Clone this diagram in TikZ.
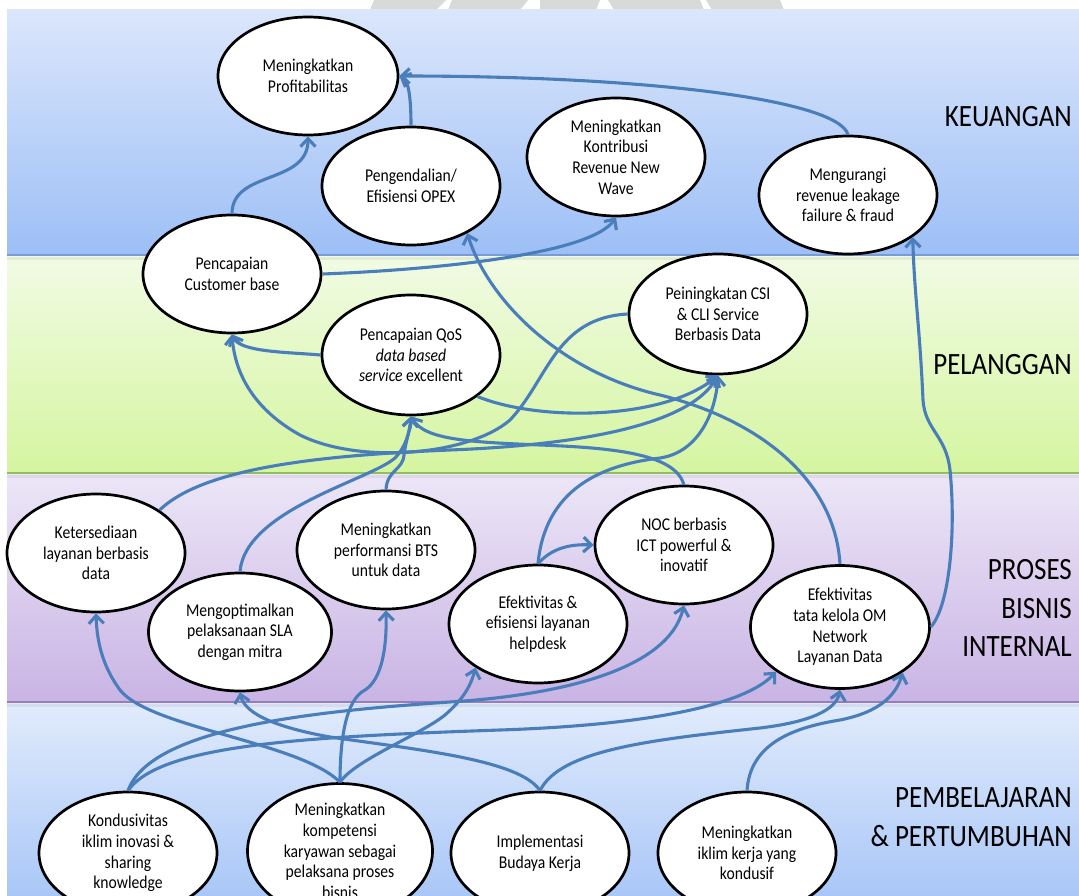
\documentclass[tikz,border=0pt]{standalone}
\usepackage{fontspec}
\setmainfont{Carlito}[FakeStretch=0.87]
\usetikzlibrary{shapes.geometric,arrows.meta}

\definecolor{linkblue}{RGB}{74,126,187}
\definecolor{finTop}{RGB}{219,230,251}
\definecolor{finBot}{RGB}{157,191,246}
\definecolor{finLine}{RGB}{118,155,215}
\definecolor{cusTop}{RGB}{241,251,228}
\definecolor{cusBot}{RGB}{213,245,160}
\definecolor{cusLine}{RGB}{145,190,95}
\definecolor{intTop}{RGB}{236,230,247}
\definecolor{intBot}{RGB}{201,180,228}
\definecolor{intLine}{RGB}{150,125,190}
\definecolor{lrnTop}{RGB}{225,235,252}
\definecolor{lrnBot}{RGB}{169,199,247}
\definecolor{wmgray}{RGB}{217,217,217}

\begin{document}
\begin{tikzpicture}[x=1pt,y=-1pt,
  goal/.style={ellipse, draw=black, line width=2.7pt, fill=white,
    minimum width=178pt, minimum height=118pt, inner sep=0pt,
    align=center, text=black,
    font=\fontsize{18}{20.7}\selectfont},
  link/.style={draw=linkblue, line width=3.1pt,
    -{Straight Barb[length=8pt,width=15pt]}},
  perspective/.style={anchor=east, inner sep=0pt, align=right,
    font=\fontsize{31}{38.5}\selectfont}]

\clip (0,0) rectangle (1079,896);
\fill[white] (0,0) rectangle (1079,896);

% faint pieces of the header mark above the first band
\fill[wmgray] (374,0) -- (446,0) -- (436,10) -- (370,10) -- cycle;
\fill[wmgray] (452,0) -- (528,0) -- (520,10) -- (448,10) -- cycle;
\fill[wmgray] (540,0) -- (600,0) -- (596,10) -- (540,10) -- cycle;
\fill[wmgray] (608,0) -- (700,0) -- (704,10) -- (614,10) -- cycle;
\fill[wmgray] (706,0) -- (780,0) -- (784,10) -- (712,10) -- cycle;

% perspective bands
\shade[top color=finTop, bottom color=finBot] (7,10) rectangle (1079,255);
\shade[top color=cusTop, bottom color=cusBot] (7,256) rectangle (1079,473);
\shade[top color=intTop, bottom color=intBot] (7,474) rectangle (1079,702);
\shade[top color=lrnTop, bottom color=lrnBot] (7,703) rectangle (1079,896);
\draw[finLine, line width=1.6pt] (7,255) -- (1079,255);
\draw[cusLine, line width=1.6pt] (7,473) -- (1079,473);
\draw[intLine, line width=1.6pt] (7,702) -- (1079,702);
\fill[black, opacity=0.06] (7,256.5) rectangle (1079,260);
\fill[black, opacity=0.06] (7,474.5) rectangle (1079,478);
\fill[black, opacity=0.06] (7,703.5) rectangle (1079,707);

% perspective titles
\node[perspective] (tFin) at (1072,117) {KEUANGAN};
\node[perspective] (tCus) at (1072,365) {PELANGGAN};
\node[perspective] (tInt) at (1072,608) {PROSES\\BISNIS\\INTERNAL};
\node[perspective] (tLrn) at (1072,817) {PEMBELAJARAN\\\& PERTUMBUHAN};

% financial goals
\node[goal, minimum width=180pt] (prof) at (308,76) {Meningkatkan\\Profitabilitas};
\node[goal] (opex) at (411,186) {Pengendalian/\\Efisiensi OPEX};
\node[goal] (kontr) at (616,157) {Meningkatkan\\Kontribusi\\Revenue New\\Wave};
\node[goal] (meng) at (848,195) {Mengurangi\\revenue leakage\\failure \& fraud};

% customer goals
\node[goal] (cust) at (232,274) {Pencapaian\\Customer base};
\node[goal, minimum height=120pt] (qos) at (411,355) {Pencapaian QoS\\\textit{data based}\\\textit{service} excellent};
\node[goal, minimum height=120pt] (csi) at (718,314) {Peiningkatan CSI\\\& CLI Service\\Berbasis Data};

% internal process goals
\node[goal] (ket) at (96,553) {Ketersediaan\\layanan berbasis\\data};
\node[goal, minimum width=183pt] (sla) at (240,632) {Mengoptimalkan\\pelaksanaan SLA\\dengan mitra};
\node[goal] (bts) at (386,550) {Meningkatkan\\performansi BTS\\untuk data};
\node[goal] (help) at (538,624) {Efektivitas \&\\efisiensi layanan\\helpdesk};
\node[goal] (noc) at (684,545) {NOC berbasis\\ICT powerful \&\\inovatif};
\node[goal, minimum width=179pt, minimum height=123pt] (om) at (840,627) {Efektivitas\\tata kelola OM\\Network\\Layanan Data};

% learning and growth goals
\node[goal, minimum height=122pt] (kon) at (128,853) {Kondusivitas\\iklim inovasi \&\\sharing\\knowledge};
\node[goal, minimum width=185pt, minimum height=122pt] (komp) at (340,851) {Meningkatkan\\kompetensi\\karyawan sebagai\\pelaksana proses\\bisnis};
\node[goal, minimum height=122pt] (impl) at (540,853) {Implementasi\\Budaya Kerja};
\node[goal, minimum height=122pt] (iklim) at (747,853) {Meningkatkan\\iklim kerja yang\\kondusif};

% cause and effect links: financial
\draw[link] (cust.north) .. controls (232,170) and (308,185) .. (prof.south);
\draw[link] (opex.north) .. controls (411,95) and (408,80) .. (prof.east);
\draw[link] (meng.north) .. controls (838,100) and (650,76) .. (prof.east);
\draw[link] (cust.east) .. controls (430,270) and (590,255) .. (kontr.south);
\draw[link] (om.north) .. controls (835,480) and (760,420) .. (660,395)
  .. controls (560,372) and (488,300) .. (opex.-40);
\draw[link] (om.east) .. controls (950,605) and (956,530) .. (950,470)
  .. controls (946,435) and (925,430) .. (923,400)
  .. controls (920,330) and (914,290) .. (meng.-33);

% customer links
\draw[link] (qos.west) .. controls (285,352) and (240,352) .. (cust.south);
\draw[link] (csi.west) .. controls (555,318) and (548,380) .. (510,420)
  .. controls (470,455) and (360,465) .. (300,435)
  .. controls (255,410) and (235,375) .. (cust.south);
\draw[link] (qos.-32) .. controls (540,422) and (665,420) .. (csi.south);

% internal process links
\draw[link] (ket.34) .. controls (205,466) and (330,455) .. (450,450)
  .. controls (580,445) and (690,425) .. (csi.south);
\draw[link] (help.north) .. controls (545,490) and (600,465) .. (660,458)
  .. controls (700,452) and (716,410) .. (csi.south);
\draw[link] (help.north) .. controls (552,548) and (570,544) .. (noc.west);
\draw[link] (noc.north) .. controls (675,455) and (620,448) .. (540,445)
  .. controls (470,442) and (425,440) .. (qos.south);
\draw[link] (sla.north) .. controls (245,510) and (370,480) .. (395,458)
  .. controls (405,448) and (410,432) .. (qos.south);
\draw[link] (bts.north) .. controls (387,470) and (403,470) .. (404,455)
  .. controls (406,440) and (410,430) .. (qos.south);

% learning and growth links
\draw[link] (kon.north) .. controls (150,730) and (300,712) .. (450,702)
  .. controls (560,695) and (668,670) .. (noc.south);
\draw[link] (kon.north) .. controls (160,745) and (300,737) .. (500,730)
  .. controls (650,725) and (745,705) .. (om.215);
\draw[link] (komp.north) .. controls (300,742) and (150,728) .. (120,690)
  .. controls (104,668) and (97,645) .. (ket.south);
\draw[link] (komp.north) .. controls (340,742) and (345,700) .. (365,690)
  .. controls (381,680) and (387,650) .. (bts.south);
\draw[link] (komp.north) .. controls (355,760) and (420,735) .. (445,715)
  .. controls (462,700) and (470,688) .. (help.215);
\draw[link] (impl.north) .. controls (520,760) and (420,750) .. (330,737)
  .. controls (280,728) and (245,715) .. (sla.south);
\draw[link] (impl.north) .. controls (560,750) and (650,740) .. (760,728)
  .. controls (810,722) and (836,710) .. (om.south);
\draw[link] (iklim.north) .. controls (750,745) and (790,728) .. (840,720)
  .. controls (880,712) and (896,695) .. (om.-36);
\end{tikzpicture}
\end{document}
